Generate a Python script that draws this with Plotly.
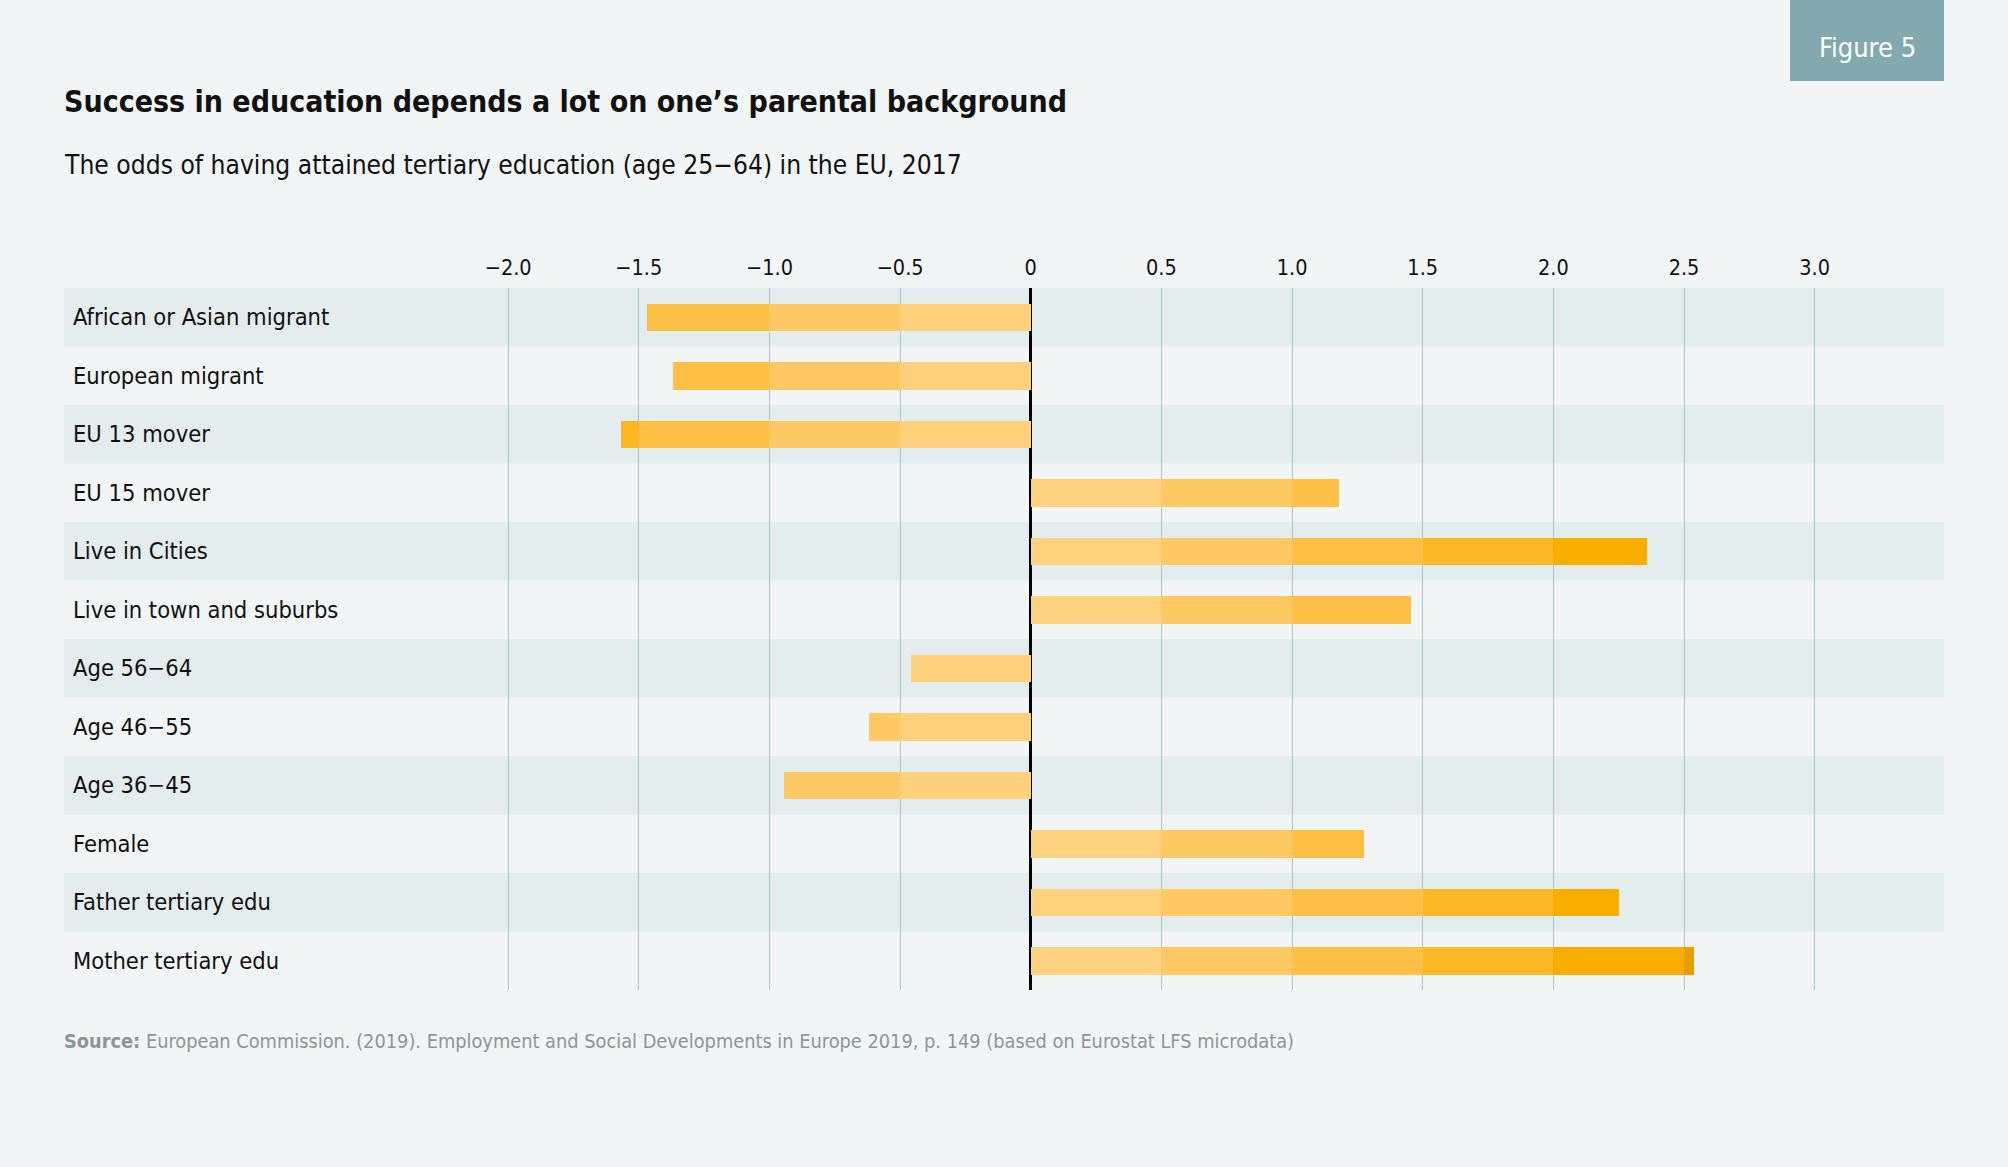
import plotly.graph_objects as go

categories = ["African or Asian migrant", "European migrant", "EU 13 mover", "EU 15 mover",
              "Live in Cities", "Live in town and suburbs", "Age 56\u221264", "Age 46\u221255",
              "Age 36\u221245", "Female", "Father tertiary edu", "Mother tertiary edu"]
values = [-1.47, -1.37, -1.57, 1.18, 2.36, 1.455, -0.46, -0.62, -0.945, 1.275, 2.25, 2.54]
tick_vals = [-2.0, -1.5, -1.0, -0.5, 0, 0.5, 1.0, 1.5, 2.0, 2.5, 3.0]
tick_text = ["\u22122.0", "\u22121.5", "\u22121.0", "\u22120.5", "0", "0.5", "1.0", "1.5", "2.0", "2.5", "3.0"]
seg_step = 0.5
pos_colors = ["#ffd27f", "#fec963", "#fdbf45", "#fdb828", "#f8ae00", "#e3a100"]
neg_colors = ["#ffd17d", "#fec964", "#fdc045", "#fbb822", "#f8ae00", "#e3a100"]

FONT = "DejaVu Sans Condensed, Liberation Sans Narrow, Roboto, sans-serif"
W, H = 2008, 1167
BG = "#f1f5f6"
BAND = "#e3eded"
px = lambda v: v / W
py = lambda v: 1 - v / H

fig = go.Figure()
for k in range(len(pos_colors)):
    lo, hi = k * seg_step, (k + 1) * seg_step
    seg = []
    cols = []
    for v in values:
        a = abs(v)
        L = max(0.0, min(a, hi) - lo)
        seg.append(L if v >= 0 else -L)
        cols.append(pos_colors[k] if v >= 0 else neg_colors[k])
    fig.add_trace(go.Bar(y=categories, x=seg, orientation="h", width=0.47,
                         marker=dict(color=cols, line=dict(width=0)),
                         showlegend=False, hoverinfo="skip"))

shapes = []
for i in range(0, len(categories), 2):
    shapes.append(dict(type="rect", xref="paper", yref="y", x0=px(64), x1=px(1944),
                       y0=i - 0.5, y1=i + 0.5, fillcolor=BAND, line=dict(width=0), layer="below"))
shapes.append(dict(type="rect", xref="paper", yref="paper", x0=px(1790), x1=px(1944),
                   y0=py(81), y1=1.02, fillcolor="#82a9ad", line=dict(width=0), layer="above"))

annotations = []
for c in categories:
    annotations.append(dict(x=px(71), xref="paper", y=c, yref="y", text=c, showarrow=False,
                            xanchor="left", yanchor="middle",
                            font=dict(family=FONT, size=23.5, color="#111111")))
annotations += [
    dict(x=px(62), y=py(102), xref="paper", yref="paper", xanchor="left", yanchor="middle",
         text="<b>Success in education depends a lot on one\u2019s parental background</b>",
         showarrow=False, font=dict(family=FONT, size=30, color="#111111")),
    dict(x=px(62), y=py(165), xref="paper", yref="paper", xanchor="left", yanchor="middle",
         text="The odds of having attained tertiary education (age 25\u221264) in the EU, 2017",
         showarrow=False, font=dict(family=FONT, size=26.2, color="#111111")),
    dict(x=px(62), y=py(1041), xref="paper", yref="paper", xanchor="left", yanchor="middle",
         text="<b>Source:</b> European Commission. (2019). Employment and Social Developments in Europe 2019, p. 149 (based on Eurostat LFS microdata)",
         showarrow=False, font=dict(family=FONT, size=19.8, color="#8f9496")),
    dict(x=px(1867), y=py(47), xref="paper", yref="paper", xanchor="center", yanchor="middle",
         text="Figure 5", showarrow=False, font=dict(family=FONT, size=27, color="#ffffff")),
]

fig.update_layout(
    width=W, height=H, paper_bgcolor=BG, plot_bgcolor="rgba(0,0,0,0)",
    margin=dict(l=0, r=0, t=0, b=0), barmode="relative", bargap=0,
    shapes=shapes, annotations=annotations,
    xaxis=dict(domain=[px(64), px(1944)], range=[-3.70, 3.495], side="top",
               tickvals=tick_vals, ticktext=tick_text, ticks="", showgrid=True,
               gridcolor="#a9c5c8", gridwidth=1, zeroline=True, zerolinecolor="#000000",
               zerolinewidth=2.5, showline=False, ticklabelstandoff=8,
               tickfont=dict(family=FONT, size=21.5, color="#111111"), fixedrange=True),
    yaxis=dict(domain=[1 - 990 / H, 1 - 288 / H], autorange=False, range=[11.5, -0.5],
               showticklabels=False, showgrid=False, zeroline=False, ticks="",
               categoryorder="array", categoryarray=categories, fixedrange=True),
)

fig.write_html("out.html", config={"displayModeBar": False},
               post_script="document.body.style.margin='0';document.body.style.background='" + BG + "';")
